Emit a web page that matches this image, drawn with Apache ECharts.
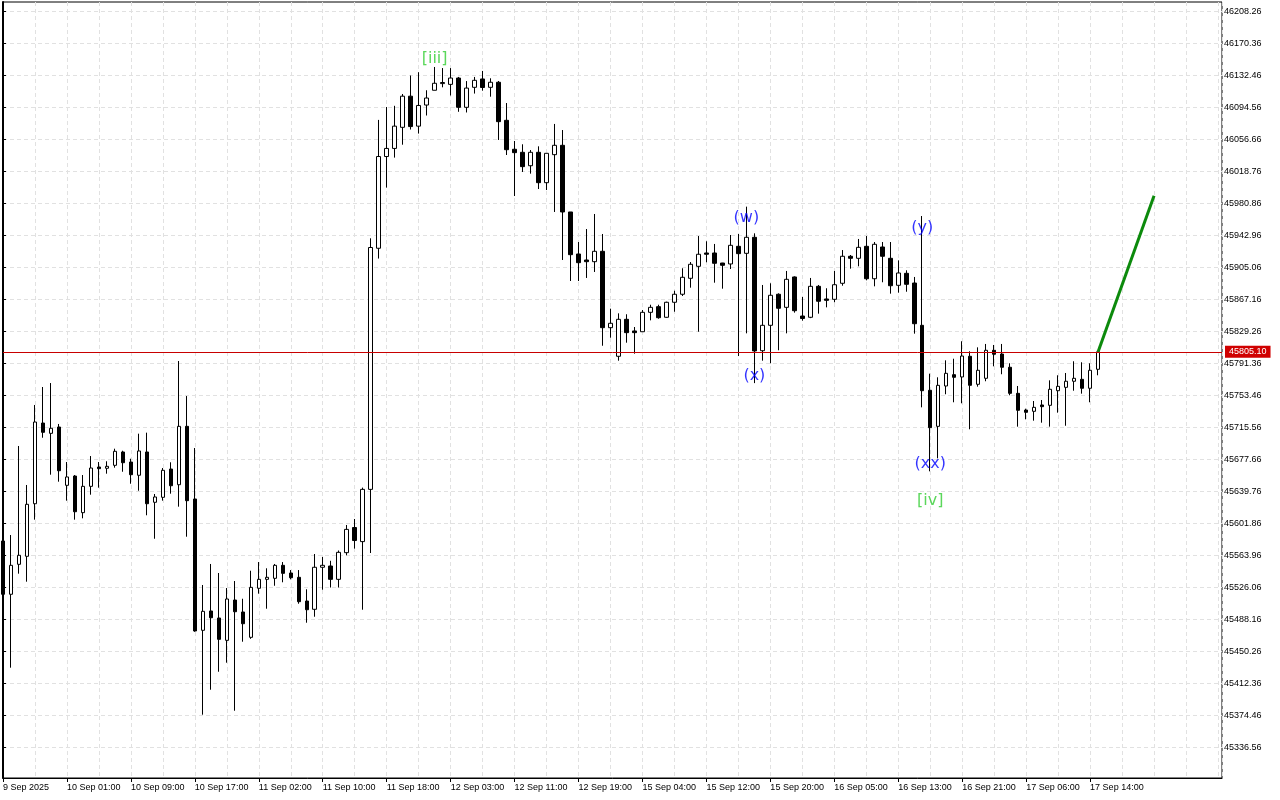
<!DOCTYPE html>
<html><head><meta charset="utf-8">
<script src="https://cdn.jsdelivr.net/npm/echarts@6/dist/echarts.min.js"></script>
<style>html,body{margin:0;padding:0;background:#fff}#c{width:1280px;height:800px}</style>
</head><body><div id="c"></div>
<script>
// Hourly candles (index 0 = 9 Sep 2025 17:00)
const opens = [45580.9,45517.8,45553.3,45562.8,45625.1,45720.7,45708.5,45716.0,45646.9,45657.9,
45614.5,45645.7,45668.6,45667.1,45670.6,45686.4,45674.5,45658.8,45686.4,45626.8,
45632.7,45666.2,45647.6,45716.8,45630.7,45475.1,45498.0,45489.7,45463.2,45511.0,
45496.8,45466.8,45524.9,45535.5,45536.7,45552.1,45543.0,45537.9,45509.8,45500.0,
45549.8,45551.3,45535.5,45567.1,45596.9,45580.2,45642.1,45927.8,46036.5,46046.1,
46071.1,46108.0,46072.5,46097.5,46115.0,46122.9,46122.0,46129.5,46094.8,46118.5,
46128.4,46118.5,46124.5,46079.4,46045.1,46041.5,46025.6,46041.5,46005.5,46038.7,
46049.8,45970.8,45921.0,45913.9,45911.9,45924.2,45833.7,45799.8,45843.6,45829.8,
45828.9,45851.9,45858.6,45846.0,45863.8,45873.3,45892.2,45906.4,45922.2,45922.2,
45910.3,45909.2,45930.1,45921.8,45940.8,45806.4,45836.5,45873.3,45857.8,45893.8,
45847.5,45846.0,45882.7,45867.7,45867.3,45886.3,45918.3,45915.9,45930.1,45891.7,
45929.3,45915.9,45883.9,45898.1,45886.6,45836.5,45759.5,45716.8,45764.6,45778.0,
45775.3,45799.8,45766.6,45773.7,45806.9,45802.5,45786.8,45755.9,45736.1,45734.6,
45742.1,45741.7,45759.0,45763.0,45770.2,45772.5,45761.9,45784.4];
const closes = [45517.8,45552.1,45564.0,45624.4,45721.9,45709.7,45714.5,45664.2,45656.8,45615.6,
45645.7,45667.4,45666.6,45669.4,45687.2,45673.7,45659.5,45687.6,45625.1,45633.1,
45664.7,45646.4,45716.8,45628.7,45474.3,45497.6,45490.0,45464.4,45512.2,45497.1,
45482.9,45526.0,45535.5,45537.9,45552.1,45542.6,45537.4,45509.0,45499.5,45549.8,
45552.1,45535.5,45567.5,45594.7,45581.5,45642.1,45928.7,46036.5,46046.1,46072.5,
46108.0,46072.0,46097.0,46105.8,46123.3,46124.2,46129.5,46094.8,46117.6,46126.8,
46118.3,46124.5,46077.8,46044.6,46041.1,46024.5,46041.5,46005.5,46040.3,46049.8,
45970.8,45920.2,45910.7,45911.9,45924.2,45833.7,45838.9,45843.6,45827.8,45827.8,
45851.9,45857.8,45845.5,45863.8,45873.3,45893.4,45908.8,45920.7,45920.7,45910.0,
45907.6,45931.3,45921.4,45940.8,45806.1,45836.5,45872.1,45856.7,45891.0,45853.8,
45844.6,45882.7,45865.0,45866.1,45884.6,45918.3,45915.9,45928.9,45891.7,45932.5,
45918.3,45883.4,45898.5,45885.1,45838.4,45759.0,45715.2,45765.4,45779.6,45774.9,
45800.1,45765.4,45783.2,45806.9,45802.2,45786.8,45755.9,45735.8,45733.4,45739.3,
45740.1,45760.7,45764.2,45770.2,45773.7,45761.9,45783.2,45805.1];
const lows = [45512.0,45430.8,45542.2,45532.7,45606.2,45703.3,45659.5,45651.2,45628.7,45606.2,
45607.8,45635.8,45644.1,45660.7,45667.8,45663.0,45648.8,45640.5,45611.4,45583.6,
45628.7,45637.0,45621.6,45586.0,45473.4,45375.1,45404.7,45426.0,45436.7,45379.8,
45461.6,45465.0,45518.5,45500.7,45527.9,45532.0,45535.5,45506.6,45484.1,45491.2,
45523.2,45525.8,45525.8,45564.0,45571.9,45499.5,45566.7,45915.6,45999.7,46035.2,
46050.5,46068.5,46063.7,46085.1,46115.0,46118.5,46108.8,46089.5,46088.7,46111.1,
46114.5,46107.4,46056.1,46038.3,45989.7,46018.2,46016.2,45998.0,45996.8,45970.8,
45913.9,45889.0,45889.0,45892.6,45899.7,45812.3,45821.8,45794.6,45815.9,45802.9,
45828.9,45842.4,45844.3,45845.5,45852.6,45871.2,45881.1,45828.9,45911.2,45887.0,
45879.9,45903.2,45800.1,45827.0,45768.0,45794.6,45791.5,45806.9,45827.0,45851.5,
45842.0,45845.0,45850.3,45857.8,45863.8,45883.4,45903.6,45906.4,45889.8,45882.7,
45887.5,45874.0,45875.2,45876.3,45826.6,45739.3,45663.5,45678.9,45754.8,45745.3,
45744.1,45713.3,45763.8,45770.2,45787.9,45778.5,45753.6,45716.4,45725.1,45723.5,
45721.1,45716.4,45733.0,45717.5,45759.0,45755.5,45745.3,45777.3];
const highs = [45586.0,45588.0,45693.5,45647.3,45742.1,45763.4,45768.1,45719.6,45674.5,45659.1,
45659.1,45681.6,45674.5,45675.4,45690.3,45687.9,45678.4,45708.1,45709.3,45636.6,
45667.4,45674.2,45794.2,45752.7,45691.1,45528.8,45553.7,45543.0,45525.2,45533.5,
45512.5,45545.7,45556.0,45548.6,45553.7,45556.0,45546.5,45546.5,45523.7,45565.5,
45562.0,45557.5,45569.7,45599.9,45607.0,45644.2,45939.6,46079.9,46095.2,46096.6,
46110.6,46132.5,46136.4,46115.0,46142.6,46141.3,46141.3,46130.8,46125.9,46130.8,
46137.9,46129.2,46126.0,46099.9,46054.9,46051.0,46044.2,46048.6,46040.3,46075.1,
46067.9,45970.8,45935.2,45950.6,45968.4,45944.7,45856.2,45850.7,45849.6,45834.5,
45854.6,45860.9,45860.9,45864.5,45877.5,45904.1,45911.5,45942.3,45936.1,45932.9,
45910.5,45943.5,45944.7,45977.1,45945.5,45884.3,45886.3,45874.4,45900.9,45894.5,
45870.1,45892.6,45884.3,45880.4,45900.9,45925.7,45919.8,45938.8,45942.3,45935.2,
45935.2,45935.2,45913.5,45901.7,45893.8,45966.0,45779.2,45774.9,45795.0,45796.9,
45817.6,45805.7,45810.4,45814.4,45813.2,45814.4,45791.5,45764.6,45737.7,45746.8,
45748.0,45771.3,45777.3,45780.0,45793.9,45792.7,45791.5,45805.1];

// x tick labels, one every 8 candles starting at candle 0
const xTickLabels = ['9 Sep 2025','10 Sep 01:00','10 Sep 09:00','10 Sep 17:00','11 Sep 02:00',
'11 Sep 10:00','11 Sep 18:00','12 Sep 03:00','12 Sep 11:00','12 Sep 19:00','15 Sep 04:00',
'15 Sep 12:00','15 Sep 20:00','16 Sep 05:00','16 Sep 13:00','16 Sep 21:00','17 Sep 06:00','17 Sep 14:00'];
const yTickValues = [45336.56,45374.46,45412.36,45450.26,45488.16,45526.06,45563.96,45601.86,
45639.76,45677.66,45715.56,45753.46,45791.36,45829.26,45867.16,45905.06,45942.96,45980.86,
46018.76,46056.66,46094.56,46132.46,46170.36,46208.26];
const lastPrice = 45805.10;

// wave annotations: [candle index, price]
const blueWaveNames = ['(w)','(x)','(y)','(xx)'];
const blueWaveIdx = [93,94,115,116];
const blueWavePrice = [45963.6,45776.4,45951.8,45672.1];
const greenWaveNames = ['[iii]','[iv]'];
const greenWaveIdx = [54,116];
const greenWavePrice = [46152.1,45628.3];

// projected move
const projIdx = [137,144];
const projPrice = [45805.10,45990];

const candleData = opens.map((o,i)=>[i,o,closes[i],lows[i],highs[i]]);
const xTickValues = xTickLabels.map((_,i)=>i*8);

const FONT = 'Liberation Sans';
const chart = echarts.init(document.getElementById('c'), null, {renderer:'canvas'});
chart.setOption({
  animation:false,
  backgroundColor:'#ffffff',
  grid:{left:2,right:58,top:2,bottom:22,show:true,borderColor:'#000',borderWidth:1,backgroundColor:'#fff'},
  xAxis:[{
    type:'value',min:0,max:152.5,position:'bottom',
    axisLine:{show:true,lineStyle:{color:'#000',width:1}},
    axisTick:{show:true,customValues:xTickValues,length:4,lineStyle:{color:'#000'}},
    axisLabel:{show:true,customValues:xTickValues,align:'left',margin:5,fontSize:9,fontFamily:FONT,color:'#000',
      formatter:(v)=>xTickLabels[Math.round(v/8)]||''},
    splitLine:{show:false}
  },{
    type:'value',min:0,max:152.5,interval:4,position:'top',
    axisLine:{show:false},axisTick:{show:false},axisLabel:{show:false},
    splitLine:{show:true,lineStyle:{color:'#e1e1e1',type:[4,3],width:1}}
  }],
  yAxis:{
    type:'value',position:'right',min:45300.1,max:46219.6,scale:true,
    axisLine:{show:true,lineStyle:{color:'#000',width:2}},
    axisTick:{show:true,customValues:yTickValues,length:3,lineStyle:{color:'#000'}},
    axisLabel:{show:true,customValues:yTickValues,margin:2,fontSize:9,fontFamily:FONT,color:'#000',
      formatter:(v)=>v.toFixed(2)},
    splitLine:{show:true,lineStyle:{color:'#e1e1e1',type:[4,3],width:1}}
  },
  series:[{
    type:'candlestick',xAxisIndex:0,yAxisIndex:0,
    data:candleData,encode:{x:0,y:[1,2,3,4]},
    barWidth:4,clip:true,
    itemStyle:{color:'#ffffff',color0:'#000000',borderColor:'#000000',borderColor0:'#000000',borderWidth:1},
    markLine:{silent:true,symbol:['none','none'],animation:false,
      lineStyle:{color:'#c80000',width:1,type:'solid'},
      label:{show:true,position:'end',distance:3,formatter:lastPrice.toFixed(2),color:'#fff',
        backgroundColor:'#d00000',padding:[2,4,1,4],fontSize:9,fontFamily:FONT},
      data:[{yAxis:lastPrice}]}
  },{
    type:'line',xAxisIndex:0,yAxisIndex:0,
    data:projIdx.map((x,i)=>[x,projPrice[i]]),
    symbol:'none',lineStyle:{color:'#0c8a0c',width:3},z:5
  },{
    type:'scatter',xAxisIndex:0,yAxisIndex:0,
    data:blueWaveIdx.map((x,i)=>({value:[x,blueWavePrice[i]],name:blueWaveNames[i]})),
    symbolSize:1,itemStyle:{color:'rgba(0,0,0,0)'},z:10,
    label:{show:true,position:'inside',formatter:'{b}',color:'#0000ff',fontSize:16,fontFamily:'DejaVu Sans'}
  },{
    type:'scatter',xAxisIndex:0,yAxisIndex:0,
    data:greenWaveIdx.map((x,i)=>({value:[x,greenWavePrice[i]],name:greenWaveNames[i]})),
    symbolSize:1,itemStyle:{color:'rgba(0,0,0,0)'},z:10,
    label:{show:true,position:'inside',formatter:'{b}',color:'#32cd32',fontSize:16,fontFamily:'DejaVu Sans'}
  }]
});
</script></body></html>
